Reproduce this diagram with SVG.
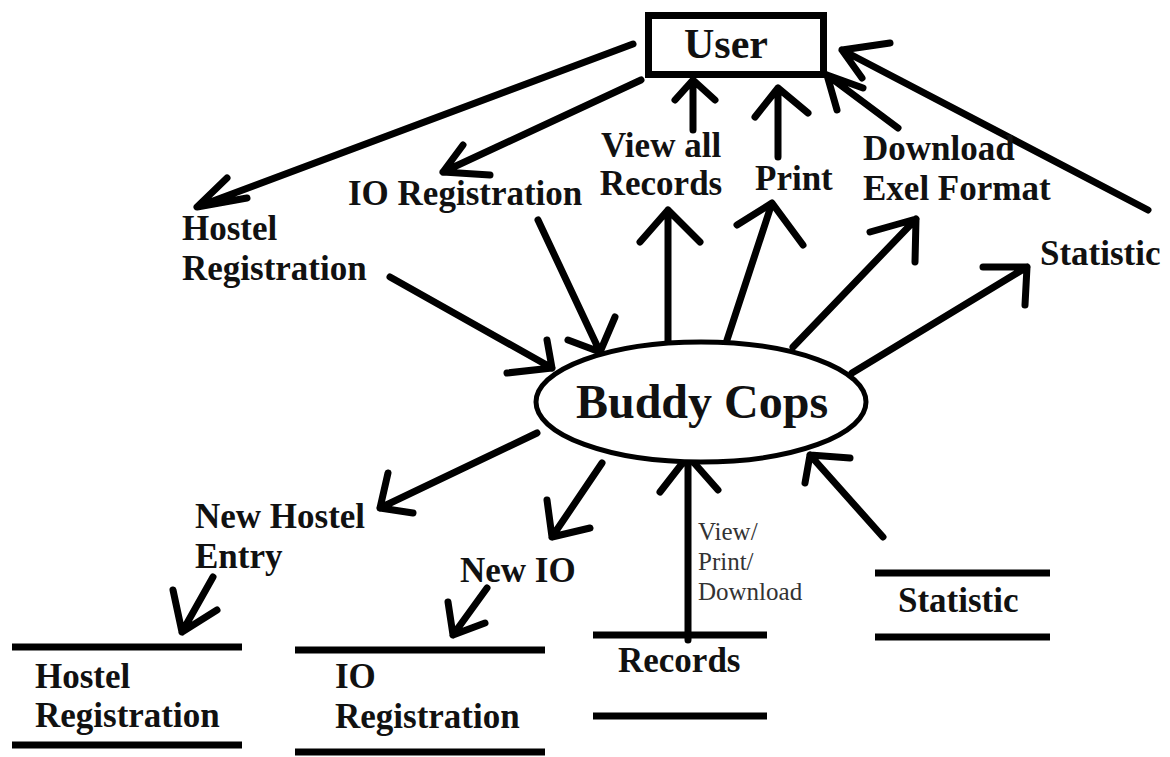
<svg xmlns="http://www.w3.org/2000/svg" width="1170" height="757" viewBox="0 0 1170 757">
<style>
.t{font-family:"Liberation Serif","Times New Roman",serif;font-weight:bold;font-size:35px;fill:#111}
.big{font-size:42px}
.huge{font-size:48px}
.s{font-family:"Liberation Serif","Times New Roman",serif;font-size:25px;fill:#333}
.c{fill:none;stroke:#000;stroke-width:7;stroke-linecap:round;stroke-linejoin:round}
.st{stroke:#000;stroke-width:7;stroke-linecap:butt}
</style>
<rect width="1170" height="757" fill="#fff"/>
<g id="connectors">
<path class="c" d="M633,44 L197,207 M227,178 L197,207 L247,198"/>
<path class="c" d="M641,80 L443,172 M463,145 L443,172 L490,175"/>
<path class="c" d="M538,220 L600,352 M568,340 L600,352 L615,317"/>
<path class="c" d="M390,277 L552,368 M507,373 L552,368 L547,340"/>
<path class="c" d="M668,343 L668,210 M640,242 L668,210 L700,242"/>
<path class="c" d="M693,130 L693,80 M675,100 L693,80 L715,100"/>
<path class="c" d="M727,340 L772,203 M737,225 L772,203 L803,245"/>
<path class="c" d="M778,157 L778,88 M755,117 L778,88 L808,113"/>
<path class="c" d="M793,347 L916,219 M870,232 L916,219 L915,262"/>
<path class="c" d="M898,128 L827,75 M837,110 L827,75 L863,88"/>
<path class="c" d="M852,373 L1027,267 M983,267 L1027,267 L1025,305"/>
<path class="c" d="M1148,210 L842,50 M890,43 L842,50 L862,78"/>
<path class="c" d="M537,433 L380,508 M388,473 L380,508 L413,513"/>
<path class="c" d="M602,463 L552,537 M547,500 L552,537 L590,528"/>
<path class="c" d="M213,577 L182,632 M173,590 L182,632 L217,610"/>
<path class="c" d="M487,588 L453,635 M448,602 L453,635 L485,623"/>
<path class="c" d="M688,640 L688,456 M660,492 L688,456 L718,490"/>
<path class="c" d="M883,537 L810,455 M805,483 L810,455 L850,458"/>
<circle cx="688" cy="452" r="3" fill="#fff" stroke="#000" stroke-width="1.5"/>
</g>
<g id="user">
<rect x="648.5" y="15.5" width="175" height="59" fill="#fff" stroke="#000" stroke-width="7"/>
<text class="t big" x="726" y="58" text-anchor="middle">User</text>
</g>
<g id="buddy-cops">
<ellipse cx="701" cy="402" rx="165" ry="60" fill="#fff" stroke="#000" stroke-width="5"/>
<text class="t huge" x="702" y="418" text-anchor="middle">Buddy Cops</text>
</g>
<g id="label-hostel-registration">
<text class="t" x="182" y="240">Hostel</text>
<text class="t" x="182" y="280">Registration</text>
</g>
<g id="label-io-registration">
<text class="t" x="348" y="205">IO Registration</text>
</g>
<g id="label-view-all-records">
<text class="t" x="661" y="157" text-anchor="middle">View all</text>
<text class="t" x="661" y="195" text-anchor="middle">Records</text>
</g>
<g id="label-print">
<text class="t" x="755" y="190">Print</text>
</g>
<g id="label-download">
<text class="t" x="863" y="160">Download</text>
<text class="t" x="863" y="200">Exel Format</text>
</g>
<g id="label-statistic">
<text class="t" x="1040" y="265">Statistic</text>
</g>
<g id="label-new-hostel-entry">
<text class="t" x="195" y="528">New Hostel</text>
<text class="t" x="195" y="568">Entry</text>
</g>
<g id="label-new-io">
<text class="t" x="460" y="582">New IO</text>
</g>
<g id="label-view-print-download">
<text class="s" x="698" y="540">View/</text>
<text class="s" x="698" y="570">Print/</text>
<text class="s" x="698" y="600">Download</text>
</g>
<g id="store-hostel-registration">
<line class="st" x1="12" y1="647" x2="242" y2="647"/>
<text class="t" x="35" y="688">Hostel</text>
<text class="t" x="35" y="727">Registration</text>
<line class="st" x1="12" y1="745" x2="242" y2="745"/>
</g>
<g id="store-io-registration">
<line class="st" x1="295" y1="650" x2="545" y2="650"/>
<text class="t" x="335" y="688">IO</text>
<text class="t" x="335" y="728">Registration</text>
<line class="st" x1="295" y1="752" x2="545" y2="752"/>
</g>
<g id="store-records">
<line class="st" x1="593" y1="635" x2="767" y2="635"/>
<text class="t" x="618" y="672">Records</text>
<line class="st" x1="593" y1="716" x2="767" y2="716"/>
</g>
<g id="store-statistic">
<line class="st" x1="875" y1="573" x2="1050" y2="573"/>
<text class="t" x="898" y="612">Statistic</text>
<line class="st" x1="875" y1="637" x2="1050" y2="637"/>
</g>
</svg>
